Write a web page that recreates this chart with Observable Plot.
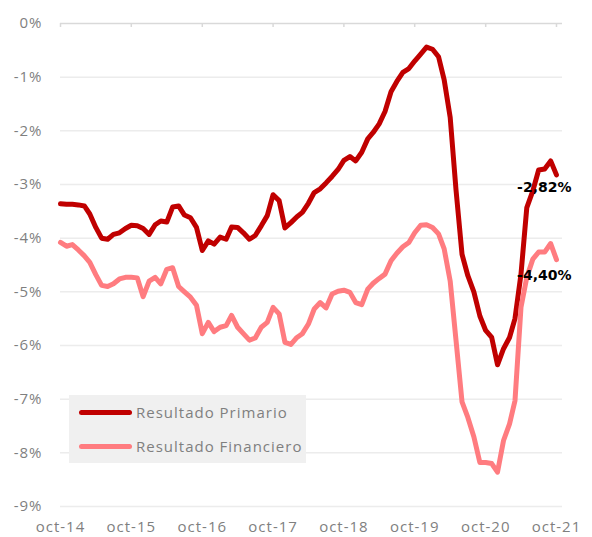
<!DOCTYPE html>
<html><head><meta charset="utf-8">
<script src="https://cdn.jsdelivr.net/npm/d3@7"></script>
<script src="https://cdn.jsdelivr.net/npm/@observablehq/plot@0.6"></script>
<style>
body{margin:0;background:#fff;font-family:"Open Sans",sans-serif;}
#wrap{position:relative;width:592px;height:537px;}
.legend{position:absolute;left:69px;top:395px;width:237px;height:68px;background:#f0f0f0;}
.row{position:absolute;left:10px;display:flex;align-items:center;height:20px;color:#7f7f7f;font-size:15px;letter-spacing:1px;white-space:nowrap;}
.sw{display:inline-block;width:53px;height:5px;border-radius:3px;margin-right:4px;}
</style></head><body><div id="wrap"></div><script>
// Data (monthly, starting oct-14)
const startMonth = "2014-10-01";
const domainEnd = "2021-11-01";
const primario = [-3.36,-3.37,-3.37,-3.38,-3.40,-3.55,-3.80,-4.00,-4.02,-3.93,-3.90,-3.82,-3.76,-3.77,-3.82,-3.93,-3.75,-3.68,-3.70,-3.42,-3.40,-3.57,-3.62,-3.80,-4.23,
 -4.05,-4.11,-3.98,-4.02,-3.79,-3.80,-3.90,-4.02,-3.95,-3.77,-3.58,-3.19,-3.30,-3.81,-3.71,-3.60,-3.52,-3.35,-3.15,-3.08,-2.97,-2.85,-2.72,-2.55,-2.48,
 -2.56,-2.40,-2.15,-2.03,-1.87,-1.64,-1.27,-1.08,-0.91,-0.84,-0.70,-0.57,-0.44,-0.48,-0.62,-1.05,-1.75,-3.10,-4.30,-4.70,-5.00,-5.45,-5.72,-5.85,-6.36,
 -6.06,-5.85,-5.50,-4.67,-3.43,-3.12,-2.73,-2.71,-2.56,-2.82];
const financiero = [-4.08,-4.15,-4.12,-4.22,-4.33,-4.45,-4.68,-4.88,-4.90,-4.85,-4.76,-4.73,-4.73,-4.74,-5.09,-4.80,-4.73,-4.85,-4.58,-4.55,-4.90,-5.00,-5.10,-5.25,-5.78,
 -5.57,-5.74,-5.66,-5.63,-5.44,-5.66,-5.78,-5.90,-5.86,-5.66,-5.57,-5.29,-5.41,-5.94,-5.98,-5.85,-5.78,-5.60,-5.32,-5.20,-5.30,-5.04,-4.99,-4.97,-5.01,
 -5.20,-5.24,-4.95,-4.84,-4.75,-4.67,-4.42,-4.28,-4.16,-4.08,-3.90,-3.76,-3.75,-3.80,-3.92,-4.20,-4.80,-5.90,-7.05,-7.34,-7.70,-8.18,-8.18,-8.20,-8.36,
 -7.77,-7.46,-7.03,-5.29,-4.73,-4.39,-4.26,-4.26,-4.10,-4.40];
const yTicks = [0,-1,-2,-3,-4,-5,-6,-7,-8,-9];
const xTickYears = [2014,2015,2016,2017,2018,2019,2020,2021];
const seriesNames = ["Resultado Primario","Resultado Financiero"];
const seriesColors = ["#c00000","#ff7c80"];

const start = new Date(startMonth + "T00:00:00Z");
const months = primario.map((_, i) => d3.utcMonth.offset(start, i));
const rows = [];
[primario, financiero].forEach((arr, s) => arr.forEach((v, i) => rows.push({date: months[i], value: v, serie: seriesNames[s]})));
const lastRows = [primario, financiero].map((arr, s) => ({date: months[arr.length - 1], value: arr[arr.length - 1], serie: seriesNames[s]}));
const xTicks = xTickYears.map(y => new Date(Date.UTC(y, 9, 1)));
const fmtPct = v => v.toFixed(2).replace(".", ",") + "%";

const chart = Plot.plot({
  width: 592, height: 537,
  marginTop: 23, marginBottom: 31, marginLeft: 60, marginRight: 30,
  style: {fontFamily: "Open Sans, sans-serif", fontSize: "15px", color: "#7f7f7f", background: "#fff", letterSpacing: "1px"},
  x: {type: "utc", domain: [start, new Date(domainEnd + "T00:00:00Z")], ticks: xTicks, tickFormat: d => "oct-" + String(d.getUTCFullYear()).slice(2), tickSize: 0, tickPadding: 15, label: null},
  y: {domain: [-9, 0], ticks: yTicks, tickFormat: d => d + "%", tickSize: 0, tickPadding: 18, label: null},
  color: {domain: seriesNames, range: seriesColors},
  marks: [
    Plot.ruleY(yTicks.filter(d => d !== 0), {stroke: "#ececec", strokeWidth: 1.5}),
    Plot.ruleY([0], {stroke: "#d9d9d9", strokeWidth: 1.5}),
    Plot.ruleX(xTicks, {x: d => d, y1: 0, y2: -0.075, stroke: "#d9d9d9", strokeWidth: 1.5}),
    Plot.lineY(rows.filter(r => r.serie === seriesNames[0]), {x: "date", y: "value", stroke: "serie", strokeWidth: 5, strokeLinejoin: "round", strokeLinecap: "round"}),
    Plot.lineY(rows.filter(r => r.serie === seriesNames[1]), {x: "date", y: "value", stroke: "serie", strokeWidth: 5, strokeLinejoin: "round", strokeLinecap: "round"}),
    Plot.text(lastRows.slice(0,1), {x: "date", y: "value", text: d => fmtPct(d.value), textAnchor: "end", dx: 15, dy: 13, fill: "#000", fontWeight: "bold", fontSize: 14, fontFamily: "DejaVu Sans"}),
    Plot.text(lastRows.slice(1), {x: "date", y: "value", text: d => fmtPct(d.value), textAnchor: "end", dx: 15, dy: 16, fill: "#000", fontWeight: "bold", fontSize: 14, fontFamily: "DejaVu Sans"})
  ]
});
chart.querySelectorAll('g[aria-label="text"] text').forEach(t => t.style.letterSpacing = "0px");
const wrap = document.getElementById("wrap");
wrap.appendChild(chart);
const leg = document.createElement("div");
leg.className = "legend";
seriesNames.forEach((n, i) => {
  const r = document.createElement("div");
  r.className = "row";
  r.style.top = (7 + i * 34) + "px";
  r.innerHTML = `<span class="sw" style="background:${seriesColors[i]}"></span>${n}`;
  leg.appendChild(r);
});
wrap.appendChild(leg);
</script></body></html>
